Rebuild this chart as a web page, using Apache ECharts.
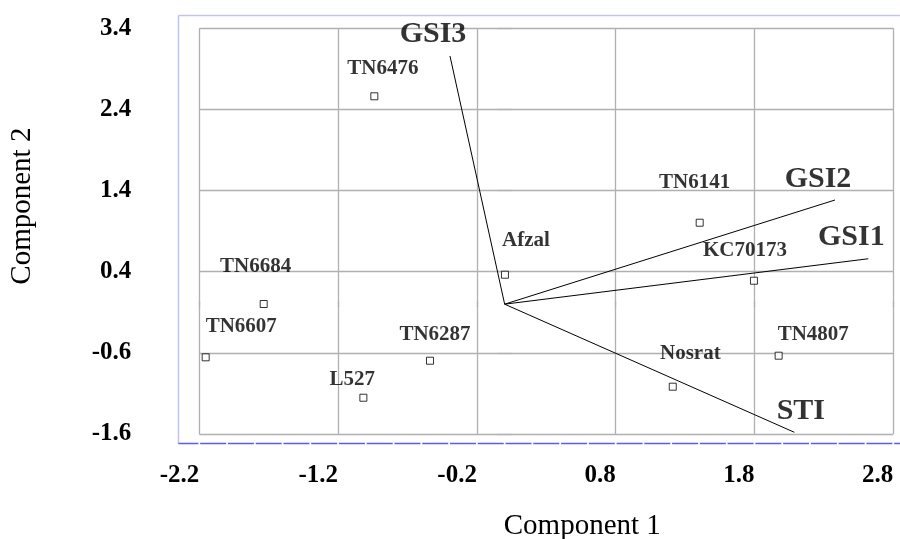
<!DOCTYPE html>
<html><head><meta charset="utf-8">
<script src="https://cdn.jsdelivr.net/npm/echarts@6/dist/echarts.min.js"></script>
<style>html,body{margin:0;padding:0;background:#fff}#c{width:900px;height:539px}</style>
</head><body><div id="c"></div>
<script>
// ---- data ----
const genotypes = ['TN6476','TN6684','TN6607','TN6287','L527','Afzal','TN6141','KC70173','TN4807','Nosrat'];
const comp1 = [-0.939,-1.736,-2.154,-0.538,-1.018,0.002,1.405,1.796,1.974,1.211];
const comp2 = [2.562,0.002,-0.655,-0.697,-1.153,0.363,1.004,0.289,-0.635,-1.017];
const traits = ['GSI3','GSI2','GSI1','STI'];
const vecX = [-0.394,2.38,2.62,2.087];
const vecY = [3.059,1.284,0.56,-1.579];
const xTicks = [-2.2,-1.2,-0.2,0.8,1.8,2.8];
const yTicks = [-1.6,-0.6,0.4,1.4,2.4,3.4];

// ---- styles (label offsets in px) ----
const genoLabelOffset = {
  TN6476:[8.5,-28], TN6684:[-8,-37], TN6607:[35.6,-30.6], TN6287:[5,-26], L527:[-11,-18],
  Afzal:[21,-34], TN6141:[-5,-40], KC70173:[-9,-30], TN4807:[34.6,-21], Nosrat:[17.6,-32.7]
};
const traitLabelOffset = { GSI3:[-17,-22], GSI2:[-17,-21], GSI1:[-17,-21], STI:[6.5,-21.5] };

const FONT = 'Liberation Serif';
const GRID = '#b0b0b0';
const step = a => Math.round((a[1]-a[0])*10)/10;
const fmt = v => (Math.round(v*10)/10).toFixed(1);

const chart = echarts.init(document.getElementById('c'), null, {renderer:'canvas'});

const series = [];
traits.forEach((t,i) => {
  series.push({
    type:'line', name:t, data:[[0,0],[vecX[i],vecY[i]]],
    symbol:'none', lineStyle:{color:'#000', width:1}, silent:true, z:3
  });
});
series.push({
  type:'scatter', name:'traitLabels',
  data: traits.map((t,i)=>({name:t, value:[vecX[i],vecY[i]], label:{offset:traitLabelOffset[t]}})),
  symbolSize:1, itemStyle:{color:'rgba(0,0,0,0)'},
  label:{show:true, position:'inside', formatter:'{b}', color:'#000', fontFamily:FONT, fontWeight:'bold', fontSize:30},
  z:5
});
series.push({
  type:'scatter', name:'genotypes',
  data: genotypes.map((g,i)=>({name:g, value:[comp1[i],comp2[i]], label:{offset:genoLabelOffset[g]}})),
  symbol:'rect', symbolSize:7,
  itemStyle:{color:'#fff', borderColor:'#000', borderWidth:1},
  label:{show:true, position:'inside', formatter:'{b}', color:'#000', fontFamily:FONT, fontWeight:'bold', fontSize:21},
  z:6
});

const axisCommon = {
  splitLine:{show:false}, axisLine:{show:false}, axisLabel:{show:false},
  axisTick:{show:true, lineStyle:{color:GRID, width:1.3}}
};

chart.setOption({
  animation:false,
  backgroundColor:'#fff',
  grid:{left:199.3, right:6.7, top:28.3, bottom:105, containLabel:false, outerBoundsMode:'none'},
  xAxis:[{
    type:'value', min:xTicks[0], max:xTicks[xTicks.length-1], interval:step(xTicks),
    position:'bottom',
    axisLine:{show:false},
    axisTick:{show:true, length:3, lineStyle:{color:GRID, width:1.3}},
    splitLine:{show:true, lineStyle:{color:GRID, width:1.3}},
    axisLabel:{formatter:fmt, align:'right', margin:29, color:'#000', fontFamily:FONT, fontWeight:'bold', fontSize:25},
    name:'Component 1', nameLocation:'middle', nameGap:78,
    nameTextStyle:{color:'#000', fontFamily:FONT, fontSize:29, padding:[0,0,0,72]}
  },{
    ...axisCommon, type:'value', min:xTicks[0], max:xTicks[xTicks.length-1], interval:step(xTicks),
    position:'top', axisTick:{show:true, length:3, lineStyle:{color:GRID, width:1.3}}
  }],
  yAxis:[{
    type:'value', min:yTicks[0], max:yTicks[yTicks.length-1], interval:step(yTicks),
    position:'left',
    axisLine:{show:false},
    axisTick:{show:true, length:7, lineStyle:{color:GRID, width:1.3}},
    splitLine:{show:true, lineStyle:{color:GRID, width:1.3}},
    axisLabel:{formatter:fmt, margin:68, padding:[0,0,7,0], color:'#000', fontFamily:FONT, fontWeight:'bold', fontSize:25},
    name:'Component 2', nameLocation:'middle', nameGap:162,
    nameTextStyle:{color:'#000', fontFamily:FONT, fontSize:29, padding:[0,0,0,50]}
  },{
    ...axisCommon, type:'value', min:yTicks[0], max:yTicks[yTicks.length-1], interval:step(yTicks),
    position:'right', axisTick:{show:true, length:7, lineStyle:{color:GRID, width:1.3}}
  }],
  graphic:[
    {type:'line', shape:{x1:178.5,y1:15.5,x2:178.5,y2:444}, style:{stroke:'#c4c4f2', lineWidth:1.5}, silent:true},
    {type:'line', shape:{x1:178.5,y1:15.5,x2:900,y2:15.5}, style:{stroke:'#c4c4f2', lineWidth:1.5}, silent:true},
    {type:'line', shape:{x1:178.5,y1:443.5,x2:900,y2:443.5}, style:{stroke:'#5c5cf2', lineWidth:1.6, lineDash:[26,1.76], lineDashOffset:6.1}, silent:true}
  ],
  series
});
</script></body></html>
